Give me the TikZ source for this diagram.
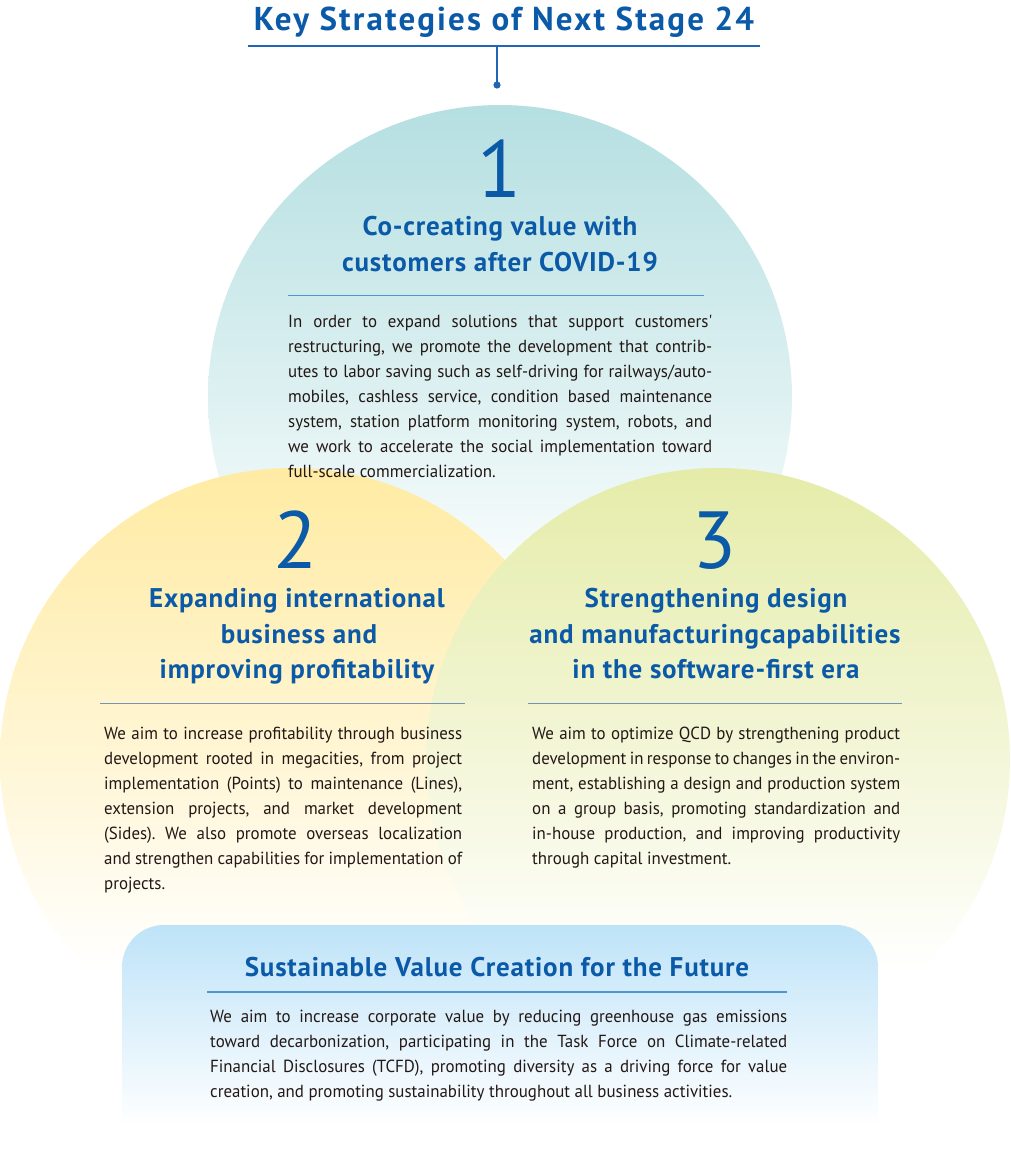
\documentclass[tikz,border=0pt]{standalone}
\usepackage{fontspec}
\setmainfont{PT Sans}
\newfontfamily\bodyfamily[FakeStretch=0.965]{PT Sans}
\newfontfamily\headfamily[LetterSpace=3]{PT Sans Bold}
\newfontfamily\titlefamily[LetterSpace=6.5]{PT Sans Bold}
\definecolor{kblue}{HTML}{0A5AA8}
\definecolor{ktext}{HTML}{231815}
\definecolor{cone}{HTML}{B5DFE1}
\definecolor{ctwo}{HTML}{FFEBA3}
\definecolor{cthree}{HTML}{E5ECA9}
\definecolor{cbox}{HTML}{BEE3F8}
\definecolor{rulegray}{HTML}{7394B6}
\definecolor{ruleblue}{HTML}{4F95D6}
\definecolor{titlerule}{HTML}{1F66B8}
\colorlet{conemid}{cone!45!white}
\colorlet{ctwomid}{ctwo!45!white}
\colorlet{cthreemid}{cthree!45!white}
\pgfdeclareverticalshading{shone}{100bp}{color(0bp)=(white); color(32bp)=(white); color(50bp)=(conemid); color(75bp)=(cone); color(100bp)=(cone)}
\pgfdeclareverticalshading{shtwo}{100bp}{color(0bp)=(white); color(32bp)=(white); color(50bp)=(ctwomid); color(75bp)=(ctwo); color(100bp)=(ctwo)}
\pgfdeclareverticalshading{shthree}{100bp}{color(0bp)=(white); color(32bp)=(white); color(50bp)=(cthreemid); color(75bp)=(cthree); color(100bp)=(cthree)}
\pgfdeclareverticalshading{shbox}{100bp}{color(0bp)=(white); color(30bp)=(white); color(75bp)=(cbox); color(100bp)=(cbox)}
\newcommand\kdigitfont{\fontsize{81}{81}\selectfont}
\newcommand\kheadfont{\headfamily\fontsize{27}{36}\selectfont}
\newcommand\ktitlefont{\titlefamily\fontsize{33}{36}\selectfont}
\newcommand\kbodyfont{\bodyfamily\fontsize{17.5}{25}\selectfont\frenchspacing\tolerance=10000\hyphenpenalty=10000\exhyphenpenalty=10000}
\begin{document}
\begin{tikzpicture}[x=1pt,y=-1pt,
  heading/.style={font=\kheadfont, text=kblue, anchor=base, inner sep=0pt},
  digit/.style={font=\kdigitfont, text=kblue, anchor=base, inner sep=0pt},
  bodytext/.style={font=\kbodyfont, text=ktext, anchor=base west, inner sep=0pt, align=justify},
  thinrule/.style={draw=rulegray, line width=1pt},
]
\useasboundingbox (0,0) rectangle (1010,1168);
% circles
\path[shading=shone] (500,397) circle (292);
\path[shading=shtwo] (292,760) circle (292);
\path[shading=shthree] (718,760) circle (292);
% bottom box
\path[shading=shbox] (122,1150) [rounded corners=42pt]-- (122,925) -- (878,925) [sharp corners]-- (878,1150) -- cycle;

% title
\node[font=\ktitlefont, text=kblue, anchor=base, inner sep=0pt] (title) at (504,30) {Key Strategies of Next Stage 24};
\coordinate (trl) at (248,46);
\coordinate (trr) at (760,46);
\coordinate (trm) at (497,46);
\coordinate (dot) at (497,85);
\draw[titlerule, line width=2pt] (trl) -- (trr);
\draw[titlerule, line width=1.2pt] (trm) -- (dot);
\fill[titlerule] (dot) circle (3.6);

% strategy 1
\node[digit] (d1) at (500,197) {1};
\node[heading] (h1a) at (500,235) {Co-creating value with};
\node[heading] (h1b) at (500,271) {customers after COVID-19};
\coordinate (r1l) at (288,295);
\coordinate (r1r) at (704,295);
\draw[draw=ruleblue, line width=1pt] (r1l) -- (r1r);
\node[bodytext, text width=424pt] (b1) at (288,327) {In order to expand solutions that support customers'\linebreak
restructuring, we promote the development that contrib-\linebreak
utes to labor saving such as self-driving for railways/auto-\linebreak
mobiles, cashless service, condition based maintenance\linebreak
system, station platform monitoring system, robots, and\linebreak
we work to accelerate the social implementation toward\linebreak
full-scale commercialization.};

% strategy 2
\node[digit] (d2) at (296,568) {2};
\node[heading] (h2a) at (297,607) {Expanding international};
\node[heading] (h2b) at (299,643) {business and};
\node[heading] (h2c) at (297,678) {improving profitability};
\coordinate (r2l) at (100,703);
\coordinate (r2r) at (465,703);
\draw[thinrule] (r2l) -- (r2r);
\node[bodytext, text width=358pt] (b2) at (104,739) {We aim to increase profitability through business\linebreak
development rooted in megacities, from project\linebreak
implementation (Points) to maintenance (Lines),\linebreak
extension projects, and market development\linebreak
(Sides). We also promote overseas localization\linebreak
and strengthen capabilities for implementation of\linebreak
projects.};

% strategy 3
\node[digit] (d3) at (715,568) {3};
\node[heading] (h3a) at (716,607) {Strengthening design};
\node[heading] (h3b) at (715,643) {and manufacturingcapabilities};
\node[heading] (h3c) at (716,678) {in the software-first era};
\coordinate (r3l) at (528,703);
\coordinate (r3r) at (902,703);
\draw[thinrule] (r3l) -- (r3r);
\node[bodytext, text width=368pt] (b3) at (532,739) {We aim to optimize QCD by strengthening product\linebreak
development in response to changes in the environ-\linebreak
ment, establishing a design and production system\linebreak
on a group basis, promoting standardization and\linebreak
in-house production, and improving productivity\linebreak
through capital investment.};

% sustainable value
\node[heading] (h4) at (497,976) {Sustainable Value Creation for the Future};
\coordinate (r4l) at (207,992);
\coordinate (r4r) at (787,992);
\draw[draw=ruleblue, line width=1.5pt] (r4l) -- (r4r);
\node[bodytext, text width=577pt] (b4) at (210,1022) {We aim to increase corporate value by reducing greenhouse gas emissions\linebreak
toward decarbonization, participating in the Task Force on Climate-related\linebreak
Financial Disclosures (TCFD), promoting diversity as a driving force for value\linebreak
creation, and promoting sustainability throughout all business activities.};
\end{tikzpicture}
\end{document}
